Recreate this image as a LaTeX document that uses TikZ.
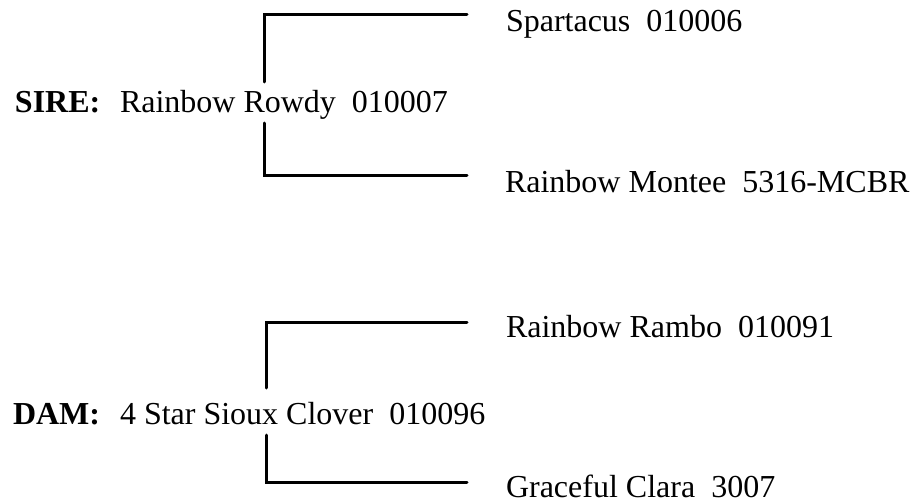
\documentclass[tikz,border=0pt]{standalone}
\usepackage{fontspec}
\setmainfont{Liberation Serif}
\begin{document}
\begin{tikzpicture}[x=1pt,y=-1pt,
  lbl/.style={anchor=base west,inner sep=0pt,outer sep=0pt,font=\fontsize{32}{38}\selectfont},
  bkt/.style={line width=3pt,line cap=round,line join=miter}]
\useasboundingbox (0,0) rectangle (911,503);
% Sire
\node[lbl,font=\fontsize{32}{38}\selectfont\bfseries] (sirelab) at (15,112) {SIRE:};
\node[lbl] (sire) at (120,112) {Rainbow Rowdy\ \ 010007};
\node[lbl] (ss) at (506,32) {Spartacus\ \ 010006};
\node[lbl] (sd) at (505,192) {Rainbow Montee\ \ 5316-MCBR};
\coordinate (s1) at (264,82);
\coordinate (s2) at (264,123);
\coordinate (sst) at (467,15);
\coordinate (sdt) at (467,175);
\draw[bkt] (s1) |- (sst);
\draw[bkt] (s2) |- (sdt);
% Dam
\node[lbl,font=\fontsize{32}{38}\selectfont\bfseries] (damlab) at (13,424) {DAM:};
\node[lbl] (dam) at (120,424) {4 Star Sioux Clover\ \ 010096};
\node[lbl] (ds) at (506,337) {Rainbow Rambo\ \ 010091};
\node[lbl] (dd) at (506,497) {Graceful Clara\ \ 3007};
\coordinate (d1) at (266,388);
\coordinate (d2) at (266,435);
\coordinate (dst) at (467,322);
\coordinate (ddt) at (467,482);
\draw[bkt] (d1) |- (dst);
\draw[bkt] (d2) |- (ddt);
\end{tikzpicture}
\end{document}
